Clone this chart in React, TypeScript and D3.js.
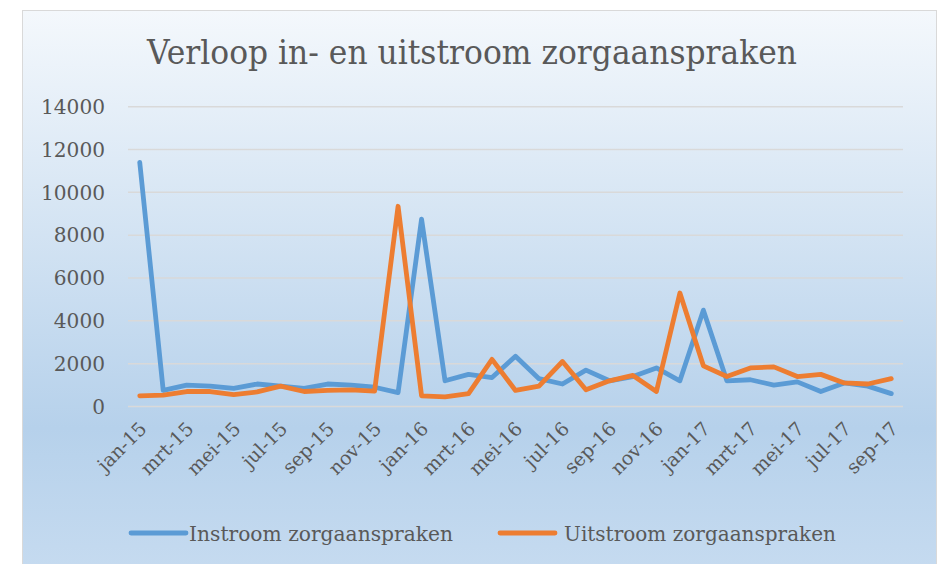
import React from "react";
import * as d3 from "d3";

const months = [
  "jan-15","feb-15","mrt-15","apr-15","mei-15","jun-15","jul-15","aug-15","sep-15","okt-15","nov-15","dec-15",
  "jan-16","feb-16","mrt-16","apr-16","mei-16","jun-16","jul-16","aug-16","sep-16","okt-16","nov-16","dec-16",
  "jan-17","feb-17","mrt-17","apr-17","mei-17","jun-17","jul-17","aug-17","sep-17",
];
const instroom = [
  11400, 750, 1000, 950, 850, 1050, 950, 850, 1050, 1000, 900, 650,
  8750, 1200, 1500, 1350, 2350, 1300, 1050, 1700, 1200, 1400, 1800, 1200,
  4500, 1200, 1250, 1000, 1150, 700, 1100, 950, 600,
];
const uitstroom = [
  500, 530, 700, 700, 550, 680, 950, 700, 750, 780, 720, 9350,
  500, 450, 600, 2200, 750, 950, 2100, 780, 1200, 1450, 700, 5300,
  1900, 1400, 1800, 1850, 1400, 1500, 1100, 1050, 1300,
];
const yTicks = [0, 2000, 4000, 6000, 8000, 10000, 12000, 14000];
const seriesNames = ["Instroom zorgaanspraken", "Uitstroom zorgaanspraken"];
const colors = ["#5b9bd5", "#ed7d31"];

const W = 940, H = 564;
const plot = { left: 128, right: 903, top: 106.7, bottom: 406.5 };
const textColor = "#595959";
const font = "'DejaVu Serif', serif";

export default function App() {
  const x = d3.scaleBand<string>().domain(months).range([plot.left, plot.right]);
  const y = d3.scaleLinear().domain([0, 14000]).range([plot.bottom, plot.top]);
  const cx = (m: string) => (x(m) as number) + x.bandwidth() / 2;
  const line = d3.line<number>().x((_, i) => cx(months[i])).y((d) => y(d));
  const series = [instroom, uitstroom];
  const labelMonths = months.filter((_, i) => i % 2 === 0);
  const legend = [
    { lx: 131, tx: 189, len: 264 },
    { lx: 500, tx: 564, len: 272 },
  ];

  return (
    <svg width={W} height={H} style={{ position: "absolute", left: 0, top: 0 }}>
      <defs>
        <linearGradient id="bg" x1="0" y1="0" x2="0" y2="1">
          <stop offset="0" stopColor="#f4f8fc" />
          <stop offset="0.74" stopColor="#b6d1eb" />
          <stop offset="1" stopColor="#c6dbf0" />
        </linearGradient>
      </defs>
      <rect x={0} y={0} width={W} height={H} fill="#ffffff" />
      <rect x={22.5} y={10.5} width={914} height={H} fill="url(#bg)" stroke="#d9d9d9" strokeWidth={1} />
      <text x={147} y={64} fontFamily={font} fontSize={33} fill={textColor} textLength={650} lengthAdjust="spacingAndGlyphs">
        Verloop in- en uitstroom zorgaanspraken
      </text>
      {yTicks.map((t) => (
        <g key={t}>
          <line x1={plot.left} x2={plot.right} y1={y(t)} y2={y(t)} stroke="#d9d9d9" strokeWidth={1.5} />
          <text x={105} y={y(t)} dy="0.36em" textAnchor="end" fontFamily={font} fontSize={20} fill={textColor}
            textLength={String(t).length * 12.8} lengthAdjust="spacingAndGlyphs">
            {t}
          </text>
        </g>
      ))}
      {labelMonths.map((m) => (
        <text key={m} transform={`translate(${cx(m) + 8},${430}) rotate(-45)`} textAnchor="end"
          fontFamily={font} fontSize={19} fill={textColor}>
          {m}
        </text>
      ))}
      {series.map((s, k) => (
        <path key={k} d={line(s) as string} fill="none" stroke={colors[k]} strokeWidth={4.8}
          strokeLinejoin="round" strokeLinecap="round" />
      ))}
      {seriesNames.map((n, k) => (
        <g key={n}>
          <line x1={legend[k].lx} x2={legend[k].lx + 55} y1={533} y2={533} stroke={colors[k]} strokeWidth={4.8} strokeLinecap="round" />
          <text x={legend[k].tx} y={541} fontFamily={font} fontSize={21} fill={textColor}
            textLength={legend[k].len} lengthAdjust="spacingAndGlyphs">
            {n}
          </text>
        </g>
      ))}
    </svg>
  );
}
